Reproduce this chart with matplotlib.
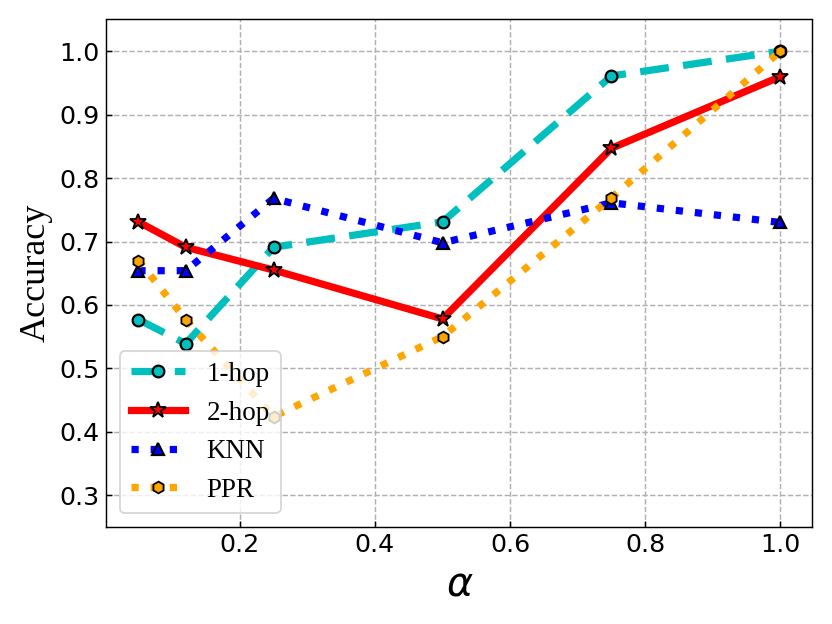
import matplotlib
matplotlib.use('Agg')
import matplotlib.pyplot as plt

alpha = [0.05, 0.12, 0.25, 0.5, 0.75, 1.0]
acc_1hop = [0.577, 0.539, 0.691, 0.731, 0.961, 1.0]
acc_2hop = [0.731, 0.691, 0.655, 0.578, 0.847, 0.960]
acc_knn = [0.654, 0.654, 0.768, 0.698, 0.761, 0.730]
acc_ppr = [0.670, 0.577, 0.424, 0.550, 0.769, 1.0]

fig, ax = plt.subplots(figsize=(6.4, 4.8), dpi=130)

ax.plot(alpha, acc_1hop, color='c', linestyle='--', linewidth=4,
        marker='o', markersize=6.5, markeredgecolor='k', markeredgewidth=1.2,
        dashes=(4, 2), label='1-hop')
ax.plot(alpha, acc_2hop, color='r', linestyle='-', linewidth=4,
        marker='*', markersize=9, markeredgecolor='k', markeredgewidth=1.0,
        label='2-hop')
ax.plot(alpha, acc_knn, color='b', linestyle=':', linewidth=4,
        marker='^', markersize=6.5, markeredgecolor='k', markeredgewidth=1.2,
        label='KNN')
ax.plot(alpha, acc_ppr, color='orange', linestyle=':', linewidth=4,
        marker='h', markersize=6.5, markeredgecolor='k', markeredgewidth=1.0,
        label='PPR')

ax.set_ylim(0.25, 1.05)
ax.grid(True, linestyle='--', color='#b0b0b0')
ax.tick_params(direction='in', labelsize=14)
ax.set_xlabel(r'$\alpha$', fontsize=22)
ax.set_ylabel('Accuracy', fontsize=20, family='Liberation Serif')
ax.legend(loc='lower left', prop={'family': 'Liberation Serif', 'size': 15})

fig.tight_layout()
plt.savefig('out.png', dpi=130)
